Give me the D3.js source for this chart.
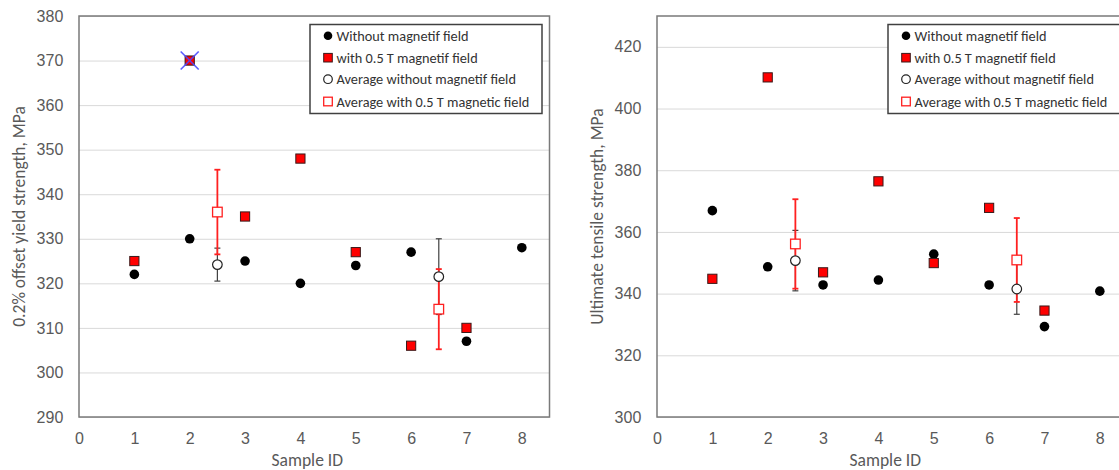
<!DOCTYPE html>
<html><head><meta charset="utf-8">
<script src="https://cdn.jsdelivr.net/npm/d3@7"></script>
<style>
body{margin:0;background:#fff;}
svg{display:block;font-family:Carlito, Lato, "Open Sans", sans-serif;}
.tick text{fill:#595959;font-size:16px;}
.axtitle{fill:#595959;font-size:17.5px;}
.leg text{fill:#333;font-size:14.3px;}
</style></head><body>
<svg id="c" width="1119" height="470"></svg>
<script>
// ---- data ----
const sampleIds = [1, 2, 3, 4, 5, 6, 7, 8];
const withIds = [1, 2, 3, 4, 5, 6, 7];
const avgIds = [2.5, 6.5];
const xTicks = [0, 1, 2, 3, 4, 5, 6, 7, 8];

const yieldWithout = [322, 330, 325, 320, 324, 327, 307, 328];
const yieldWith = [325, 370, 335, 348, 327, 306, 310];
const yieldAvgWithout = [324.2, 321.5];
const yieldAvgWithoutErr = [3.7, 8.5];
const yieldAvgWith = [336.0, 314.2];
const yieldAvgWithErr = [9.5, 9.0];
const yieldOutlierIds = [2];
const yieldOutlierVals = [370];
const yieldTicks = [290, 300, 310, 320, 330, 340, 350, 360, 370, 380];

const utsWithout = [366.9, 348.7, 342.8, 344.4, 352.8, 342.8, 329.3, 340.8];
const utsWith = [344.8, 410.1, 346.9, 376.4, 349.9, 367.8, 334.5];
const utsAvgWithout = [350.7, 341.5];
const utsAvgWithoutErr = [9.8, 8.2];
const utsAvgWith = [356.1, 350.9];
const utsAvgWithErr = [14.5, 13.6];
const utsTicks = [300, 320, 340, 360, 380, 400, 420];

const legendLabels = ["Without magnetif field", "with 0.5 T magnetif field",
  "Average without magnetif field", "Average with 0.5 T magnetic field"];

const svg = d3.select("#c");

function chart(cfg) {
  const x = d3.scaleLinear().domain([0, 8.5]).range([cfg.x0, cfg.x0 + 470.5]);
  const y = d3.scaleLinear().domain(cfg.yDomain).range([417, 16]);
  const g = svg.append("g");
  // gridlines
  g.append("g").attr("transform", `translate(${cfg.x0},0)`)
    .call(d3.axisLeft(y).tickValues(cfg.yTicks).tickSize(-470.5).tickFormat(""))
    .call(s => s.select(".domain").remove())
    .call(s => s.selectAll("line").attr("stroke", "#d9d9d9").attr("stroke-width", 1));
  // y labels
  g.append("g").attr("transform", `translate(${cfg.x0 - 15.7},0)`)
    .call(d3.axisLeft(y).tickValues(cfg.yTicks).tickSize(0).tickPadding(0))
    .call(s => s.select(".domain").remove());
  // x labels
  g.append("g").attr("transform", `translate(0,432.5)`)
    .call(d3.axisBottom(x).tickValues(xTicks).tickSize(0).tickPadding(0).tickFormat(d3.format("d")))
    .call(s => s.select(".domain").remove())
    .call(s => s.selectAll("text").attr("dy", "0.71em"));
  // frame
  g.append("rect").attr("x", x(0)).attr("y", y.range()[1])
    .attr("width", x(8.5) - x(0)).attr("height", y.range()[0] - y.range()[1])
    .attr("fill", "none").attr("stroke", "#7a7a7a").attr("stroke-width", 1.5);
  // titles
  g.append("text").attr("class", "axtitle").attr("text-anchor", "middle")
    .attr("x", (x(0) + x(8.5)) / 2 - 7).attr("y", 466).text("Sample ID");
  g.append("text").attr("class", "axtitle").attr("text-anchor", "middle")
    .attr("transform", `translate(${cfg.x0 - 54},${(y.range()[0] + y.range()[1]) / 2}) rotate(-90)`)
    .text(cfg.yTitle);

  const cap = 3;
  function errBars(vals, errs, color, w) {
    const eg = g.append("g").attr("stroke", color).attr("stroke-width", w);
    avgIds.forEach((id, i) => {
      const cx = x(id), lo = y(vals[i] - errs[i]), hi = y(vals[i] + errs[i]);
      eg.append("line").attr("x1", cx).attr("x2", cx).attr("y1", lo).attr("y2", hi);
      eg.append("line").attr("x1", cx - cap).attr("x2", cx + cap).attr("y1", lo).attr("y2", lo);
      eg.append("line").attr("x1", cx - cap).attr("x2", cx + cap).attr("y1", hi).attr("y2", hi);
    });
  }
  errBars(cfg.avgWithout, cfg.avgWithoutErr, "#404040", 1.2);
  errBars(cfg.avgWith, cfg.avgWithErr, "#ff2020", 1.8);

  // markers
  g.append("g").selectAll("circle").data(sampleIds).join("circle")
    .attr("cx", d => x(d)).attr("cy", (d, i) => y(cfg.without[i])).attr("r", 4.8)
    .attr("fill", "#000");
  g.append("g").selectAll("rect").data(withIds).join("rect")
    .attr("x", d => x(d) - 4.6).attr("y", (d, i) => y(cfg.with[i]) - 4.6)
    .attr("width", 9.2).attr("height", 9.2)
    .attr("fill", "#ff0000").attr("stroke", "#3a1a1a").attr("stroke-width", 1);
  g.append("g").selectAll("circle").data(avgIds).join("circle")
    .attr("cx", d => x(d)).attr("cy", (d, i) => y(cfg.avgWithout[i])).attr("r", 4.8)
    .attr("fill", "#fff").attr("stroke", "#222").attr("stroke-width", 1.2);
  g.append("g").selectAll("rect").data(avgIds).join("rect")
    .attr("x", d => x(d) - 4.8).attr("y", (d, i) => y(cfg.avgWith[i]) - 4.8)
    .attr("width", 9.6).attr("height", 9.6)
    .attr("fill", "#fff").attr("stroke", "#ff2020").attr("stroke-width", 1.3);
  if (cfg.outIds) {
    const og = g.append("g").attr("stroke", "#4a4aff").attr("stroke-width", 1.6).attr("opacity", 0.9);
    cfg.outIds.forEach((id, i) => {
      const cx = x(id), cy = y(cfg.outVals[i]);
      og.append("line").attr("x1", cx - 9).attr("y1", cy - 9).attr("x2", cx + 9).attr("y2", cy + 9);
      og.append("line").attr("x1", cx - 9).attr("y1", cy + 9).attr("x2", cx + 9).attr("y2", cy - 9);
    });
  }

  // legend
  const lx = cfg.x0 + 231, ly = 24.5;
  const lg = g.append("g").attr("class", "leg");
  lg.append("rect").attr("x", lx).attr("y", ly).attr("width", 232).attr("height", 89)
    .attr("fill", "#fff").attr("stroke", "#404040").attr("stroke-width", 1.5);
  const rowY = [35.7, 57.7, 79.2, 101.5];
  const mx = lx + 18;
  lg.append("circle").attr("cx", mx).attr("cy", rowY[0]).attr("r", 4.3).attr("fill", "#000");
  lg.append("rect").attr("x", mx - 4.3).attr("y", rowY[1] - 4.3).attr("width", 8.6).attr("height", 8.6)
    .attr("fill", "#ff0000").attr("stroke", "#3a1a1a").attr("stroke-width", 1);
  lg.append("circle").attr("cx", mx).attr("cy", rowY[2]).attr("r", 4.3)
    .attr("fill", "#fff").attr("stroke", "#222").attr("stroke-width", 1.2);
  lg.append("rect").attr("x", mx - 4.3).attr("y", rowY[3] - 4.3).attr("width", 8.6).attr("height", 8.6)
    .attr("fill", "#fff").attr("stroke", "#ff2020").attr("stroke-width", 1.3);
  lg.selectAll("text.l").data(legendLabels).join("text").attr("class", "l")
    .attr("x", lx + 26.5).attr("y", (d, i) => rowY[i]).attr("dy", "0.35em").text(d => d);
}

chart({x0: 79, yDomain: [290, 380], yTicks: yieldTicks, yTitle: "0.2% offset yield strength, MPa",
  without: yieldWithout, with: yieldWith, avgWithout: yieldAvgWithout, avgWithoutErr: yieldAvgWithoutErr,
  avgWith: yieldAvgWith, avgWithErr: yieldAvgWithErr, outIds: yieldOutlierIds, outVals: yieldOutlierVals});
chart({x0: 657, yDomain: [300, 430], yTicks: utsTicks, yTitle: "Ultimate tensile strength, MPa",
  without: utsWithout, with: utsWith, avgWithout: utsAvgWithout, avgWithoutErr: utsAvgWithoutErr,
  avgWith: utsAvgWith, avgWithErr: utsAvgWithErr});
</script></body></html>
